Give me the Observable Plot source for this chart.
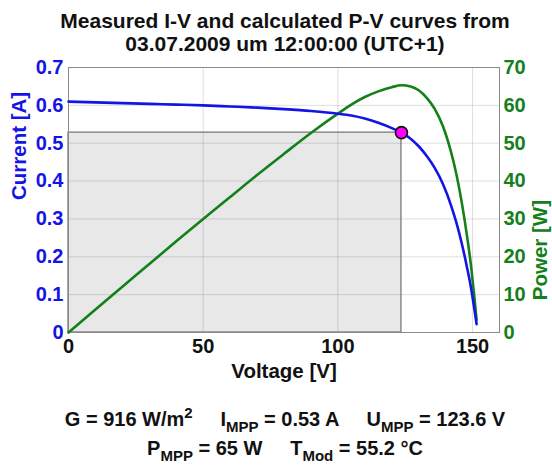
<!DOCTYPE html>
<html><head><meta charset="utf-8">
<script src="https://cdn.jsdelivr.net/npm/d3@7"></script>
<script src="https://cdn.jsdelivr.net/npm/@observablehq/plot@0.6"></script>
<style>body{margin:0;background:#fff} svg{display:block}</style>
</head><body><div id="chart"></div>
<script>
// ---- data ----
const voltage = [0, 10, 20, 30, 40, 50, 60, 70, 80, 90, 100, 105, 110, 115, 120, 123.6, 127, 130, 133, 136, 139, 142, 144, 146, 148, 149.5, 150.5, 151.5];
const current = [0.610, 0.608, 0.606, 0.604, 0.602, 0.600, 0.597, 0.594, 0.590, 0.585, 0.578, 0.573, 0.565, 0.554, 0.540, 0.528, 0.512, 0.492, 0.466, 0.434, 0.392, 0.336, 0.290, 0.235, 0.170, 0.115, 0.070, 0.022];
const power = [0, 6.1, 12.1, 18.1, 24.1, 30.0, 35.8, 41.6, 47.2, 52.7, 57.8, 60.2, 62.2, 63.7, 64.8, 65.3, 65.0, 64.0, 62.0, 59.0, 54.5, 47.7, 41.8, 34.3, 25.2, 17.2, 10.5, 3.3];
const mppVoltage = [123.6];
const mppCurrent = [0.528];
const xTicks = [0, 50, 100, 150];
const currentTicks = [0, 0.1, 0.2, 0.3, 0.4, 0.5, 0.6, 0.7];
const powerTickLabels = ["0", "10", "20", "30", "40", "50", "60", "70"];
const titleLines = ["Measured I-V and calculated P-V curves from", "03.07.2009 um 12:00:00 (UTC+1)"];
const xLabel = "Voltage [V]";
const leftLabel = "Current [A]";
const rightLabel = "Power [W]";
// caption segments: [text, kind] kind: n=normal, sub, sup
const captionLine1 = [["G = 916 W/m","n"],["2","sup"],["     I","n"],["MPP","sub"],[" = 0.53 A     U","n"],["MPP","sub"],[" = 123.6 V","n"]];
const captionLine2 = [["P","n"],["MPP","sub"],[" = 65 W     T","n"],["Mod","sub"],[" = 55.2 °C","n"]];

// ---- build ----
const BLUE = "#1414e6", GREEN = "#13801a";
const powerToCurrent = 0.7 / 70; // right axis 0..70 W aligned with left axis 0..0.7 A
const data = voltage.map((v, i) => ({voltage: v, current: current[i], power: power[i]}));
const mpp = mppVoltage.map((v, i) => ({voltage: v, current: mppCurrent[i]}));

const chart = Plot.plot({
  width: 552, height: 466,
  marginTop: 67, marginBottom: 134, marginLeft: 68, marginRight: 53,
  style: {fontFamily: "'Liberation Sans', Arial, sans-serif", fontWeight: "bold", fontSize: "20px", background: "#fff", overflow: "visible"},
  x: {domain: [0, 160]},
  y: {domain: [0, 0.7]},
  marks: [
    Plot.rect(mpp, {x1: () => 0, x2: "voltage", y1: () => 0, y2: "current", fill: "#e8e8e8"}),
    Plot.gridX(xTicks, {stroke: "#000", strokeOpacity: 0.13}),
    Plot.gridY(currentTicks, {stroke: "#000", strokeOpacity: 0.13}),
    Plot.rect(mpp, {x1: () => 0, x2: "voltage", y1: () => 0, y2: "current", fill: "none", stroke: "#7a7a7a", strokeWidth: 1.3}),
    Plot.frame({stroke: "#8a8a8a"}),
    Plot.axisX(xTicks, {anchor: "bottom", tickSize: 0, tickPadding: 6, label: null, fill: "#111", fontSize: 20}),
    Plot.axisY(currentTicks, {anchor: "left", tickSize: 0, tickPadding: 5, label: null, fill: BLUE, fontSize: 20, tickFormat: d => d === 0 ? "0" : d3.format(".1f")(d)}),
    Plot.axisY(currentTicks, {anchor: "right", tickSize: 0, tickPadding: 4, label: null, fill: GREEN, fontSize: 20, tickFormat: (d, i) => powerTickLabels[i]}),
    Plot.line(data, {x: "voltage", y: d => d.power * powerToCurrent, stroke: GREEN, strokeWidth: 2.6, curve: "monotone-x"}),
    Plot.line(data, {x: "voltage", y: "current", stroke: BLUE, strokeWidth: 2.6, curve: "monotone-x"}),
    Plot.dot(mpp, {x: "voltage", y: "current", r: 6, fill: "#ff00ff", stroke: "#111", strokeWidth: 1.6}),
    Plot.text([xLabel], {frameAnchor: "bottom", dy: 45, fill: "#111", fontSize: 20.5, fontWeight: "bold"}),
    Plot.text([leftLabel], {frameAnchor: "left", dx: -49, rotate: -90, fill: BLUE, fontSize: 20.5, fontWeight: "bold"}),
    Plot.text([rightLabel], {frameAnchor: "right", dx: 41, rotate: -90, fill: GREEN, fontSize: 20.5, fontWeight: "bold"})
  ]
});
document.getElementById("chart").appendChild(chart);

const svg = d3.select(chart);
const cx = 285;
titleLines.forEach((t, i) => {
  svg.append("text").attr("x", cx).attr("y", 28 + i * 23).attr("text-anchor", "middle")
    .attr("fill", "#111").style("font-size", "21px").style("font-weight", "bold").text(t);
});
function caption(parts, y) {
  const t = svg.append("text").attr("x", cx).attr("y", y).attr("text-anchor", "middle")
    .attr("fill", "#111").style("font-size", "20px").style("font-weight", "bold").style("white-space", "pre");
  let shift = 0;
  parts.forEach(([txt, kind]) => {
    const target = kind === "sub" ? 6 : kind === "sup" ? -8 : 0;
    t.append("tspan").attr("dy", target - shift).style("font-size", kind === "n" ? "20px" : "15px").text(txt);
    shift = target;
  });
}
caption(captionLine1, 426);
caption(captionLine2, 455);
</script></body></html>
